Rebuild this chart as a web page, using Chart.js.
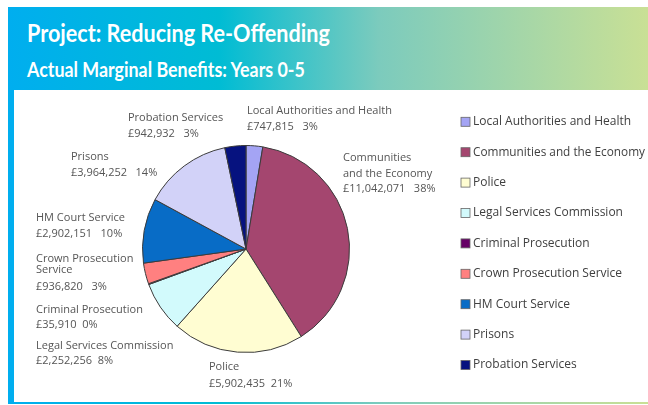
<!DOCTYPE html>
<html>
<head>
<meta charset="utf-8">
<script src="https://cdn.jsdelivr.net/npm/chart.js@4.4.1/dist/chart.umd.min.js"></script>
<style>
  body { margin: 0; width: 648px; height: 405px; overflow: hidden; background: #fff; position: relative; }
  #header { position: absolute; left: 8px; top: 7px; width: 640px; height: 83px;
    background: linear-gradient(90deg, #00aeef 0%, #00bcd4 33%, #7ccbbd 58%, #c9e095 100%); }
  #panel { position: absolute; left: 8px; top: 90px; width: 6px; height: 314px; background: #00aeef; }
  #bottom { position: absolute; left: 8px; top: 402px; width: 640px; height: 2px;
    background: linear-gradient(90deg, #00aeef 0%, #00bcd4 33%, #7ccbbd 58%, #c9e095 100%); }
  .t { position: absolute; left: 27px; color: #fff; font-family: Lato, sans-serif; font-weight: bold;
    white-space: nowrap; transform-origin: 0 0; }
  #title { top: 20px; font-size: 25px; line-height: 25px; }
  #subtitle { top: 58px; font-size: 21px; line-height: 21px; }
  #chart-1 { position: absolute; left: 0; top: 0; }
</style>
</head>
<body>
<div id="header"></div>
<div id="panel"></div>
<div id="bottom"></div>
<div class="t" id="title" data-w="303">Project: Reducing Re-Offending</div>
<div class="t" id="subtitle" data-w="278">Actual Marginal Benefits: Years 0-5</div>
<canvas id="chart-1" width="648" height="405"></canvas>
<script>
const categories = [
    "Local Authorities and Health",
    "Communities and the Economy",
    "Police",
    "Legal Services Commission",
    "Criminal Prosecution",
    "Crown Prosecution Service",
    "HM Court Service",
    "Prisons",
    "Probation Services",
];
const benefits = [747815, 11042071, 5902435, 2252256, 35910, 936820, 2902151, 3964252, 942932];
const sliceColors = ["#a4a4f4", "#a4466f", "#fffdd2", "#d2fafc", "#660066", "#ff8080", "#086cc6", "#d2d2f8", "#06127f"];

// where the text next to each slice sits (name lines, then value line)
const labelLayout = [
    { x: 247, ys: [114, 130], lines: ["Local Authorities and Health"], gap: "   " },
    { x: 343, ys: [160.7, 177, 192], lines: ["Communities", "and the Economy"], gap: "   " },
    { x: 209, ys: [370, 386.7], lines: ["Police"], gap: "  " },
    { x: 36, ys: [349.3, 363.5], lines: ["Legal Services Commission"], gap: "  " },
    { x: 36, ys: [313.3, 328.3], lines: ["Criminal Prosecution"], gap: "  " },
    { x: 36, ys: [261.7, 273.3, 290], lines: ["Crown Prosecution", "Service"], gap: "   " },
    { x: 36, ys: [221, 236.7], lines: ["HM Court Service"], gap: "   " },
    { x: 71, ys: [160, 176], lines: ["Prisons"], gap: "   " },
    { x: 128, ys: [120.7, 137.3], lines: ["Probation Services"], gap: "   " },
];

// fit header texts to the widths in the original
document.querySelectorAll(".t").forEach((el) => {
    el.style.transform = "scaleX(" + el.dataset.w / el.offsetWidth + ")";
});

const sliceLabels = {
    id: "sliceLabels",
    afterDraw(chart) {
        const ctx = chart.ctx;
        const data = chart.data.datasets[0].data;
        const total = data.reduce((a, b) => a + b, 0);
        ctx.save();
        ctx.font = "11px 'Open Sans'";
        ctx.fillStyle = "#555555";
        ctx.textBaseline = "alphabetic";
        ctx.textAlign = "left";
        data.forEach((v, i) => {
            const l = labelLayout[i];
            const pct = Math.round((v / total) * 100);
            const rows = l.lines.concat(["£" + v.toLocaleString("en-GB") + l.gap + pct + "%"]);
            rows.forEach((r, j) => ctx.fillText(r, l.x, l.ys[j]));
        });
        ctx.restore();
    },
};

const sideLegend = {
    id: "sideLegend",
    afterDraw(chart) {
        const ctx = chart.ctx;
        const ds = chart.data.datasets[0];
        ctx.save();
        ctx.font = "12px 'Open Sans'";
        ctx.textBaseline = "middle";
        chart.data.labels.forEach((name, i) => {
            const y = 121.8 + 30.4 * i;
            ctx.fillStyle = ds.backgroundColor[i];
            ctx.fillRect(461, y - 4.5, 9, 9);
            ctx.strokeStyle = "#666";
            ctx.lineWidth = 0.8;
            ctx.strokeRect(461, y - 4.5, 9, 9);
            ctx.fillStyle = "#404040";
            ctx.fillText(name, 473, y, 172);
        });
        ctx.restore();
    },
};

const ctx1 = document.getElementById("chart-1").getContext("2d");
const myChart = new Chart(ctx1, {
    type: "pie",
    data: {
        labels: categories,
        datasets: [
            {
                label: "Actual Marginal Benefits",
                data: benefits,
                backgroundColor: sliceColors,
                borderColor: "#3b3b3b",
                borderWidth: 1,
            },
        ],
    },
    options: {
        responsive: false,
        animation: false,
        layout: { padding: { left: 142, right: 298, top: 145, bottom: 52 } },
        plugins: {
            legend: { display: false },
            tooltip: { enabled: false },
        },
    },
    plugins: [sliceLabels, sideLegend],
});
</script>
</body>
</html>
